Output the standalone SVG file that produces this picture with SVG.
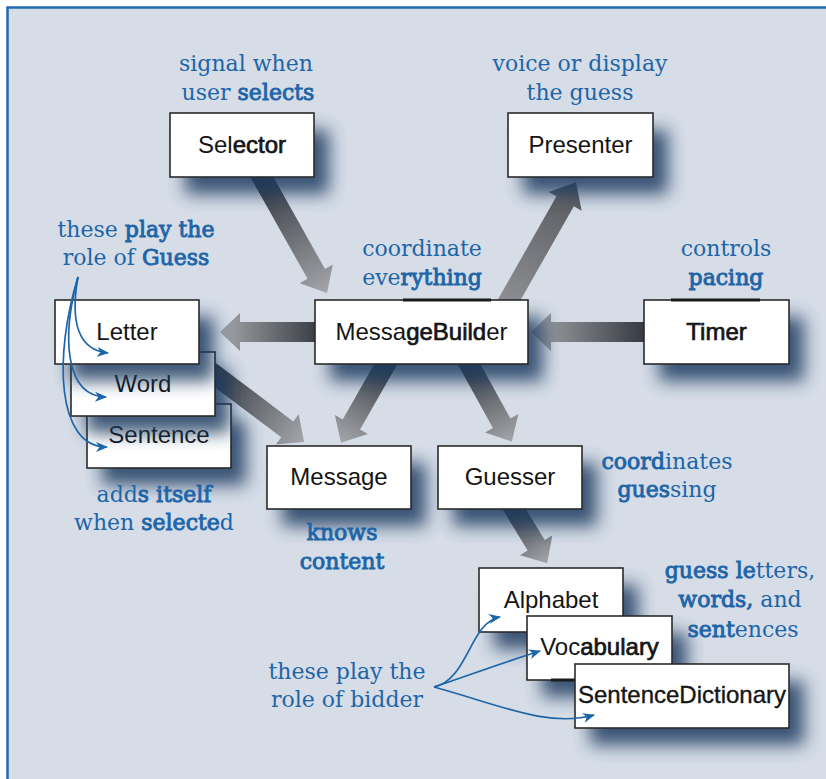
<svg xmlns="http://www.w3.org/2000/svg" width="826" height="779" viewBox="0 0 826 779">
<style>
.box{fill:#fff;stroke:#2a2a2a;stroke-width:1.6}
.shadow{fill:#1c3a60;opacity:0.85;filter:url(#blur)}
.lbl{font-family:"Liberation Sans",Arial,sans-serif;font-size:24px;fill:#151515;text-anchor:middle}
.sb{stroke:#151515;stroke-width:0.7}
.note{font-family:"DejaVu Serif",serif;font-size:22px;fill:#1d65a8;text-anchor:middle}
.b{stroke:#1d65a8;stroke-width:0.9}
.curve{fill:none;stroke:#1d65a8;stroke-width:1.7;marker-end:url(#ah)}
.edgebar{stroke:#1a1a1a;stroke-width:3}
</style>
<defs>
<filter id="blur" x="-50%" y="-50%" width="200%" height="200%"><feGaussianBlur stdDeviation="8.5"/></filter>
<linearGradient id="gTail" x1="0" y1="0" x2="1" y2="0"><stop offset="0" stop-color="#2c3038"/><stop offset="1" stop-color="#a4a6aa"/></linearGradient>
<linearGradient id="gRev" x1="0" y1="0" x2="1" y2="0"><stop offset="0" stop-color="#909296"/><stop offset="1" stop-color="#55575c"/></linearGradient>
<marker id="ah" viewBox="0 0 12 10" refX="11" refY="5" markerWidth="12" markerHeight="10" markerUnits="userSpaceOnUse" orient="auto"><path d="M0,0 L12,5 L0,10 L3.5,5 z" fill="#1d65a8"/></marker>
</defs>
<rect x="0" y="0" width="826" height="779" fill="#ffffff"/>
<rect x="7.5" y="7.5" width="840" height="800" fill="#d6dde7" stroke="#2068b0" stroke-width="2.5"/>

<g id="connectors">
<polygon transform="translate(258.5,171) rotate(60.7)" points="0,-10 118,-10 118,-19 140,0 118,19 118,10 0,10" fill="url(#gTail)"/>
<polygon transform="translate(503.4,310) rotate(-60.4)" points="0,-10 125,-10 125,-19 147,0 125,19 125,10 0,10" fill="url(#gRev)"/>
<polygon transform="translate(330,332) rotate(180)" points="0,-10 90,-10 90,-19 110,0 90,19 90,10 0,10" fill="url(#gTail)"/>
<polygon transform="translate(655,332) rotate(180)" points="0,-10 104,-10 104,-19 124,0 104,19 104,10 0,10" fill="url(#gTail)"/>
<polygon transform="translate(391,355) rotate(119.7)" points="0,-10 80,-10 80,-19 101,0 80,19 80,10 0,10" fill="url(#gTail)"/>
<polygon transform="translate(464,355) rotate(61.1)" points="0,-10 78,-10 78,-19 99,0 78,19 78,10 0,10" fill="url(#gTail)"/>
<polygon transform="translate(205,367.4) rotate(37)" points="0,-10 103,-10 103,-19 124,0 103,19 103,10 0,10" fill="url(#gTail)"/>
<polygon transform="translate(508.6,500) rotate(58.6)" points="0,-10 53,-10 53,-19 74,0 53,19 53,10 0,10" fill="url(#gTail)"/>
</g>

<g id="node-selector">
<rect class="shadow" x="185" y="130" width="144" height="64"/>
<rect class="box" x="170" y="113" width="144" height="64"/>
<text class="lbl" x="242" y="153">Sel<tspan class="sb">ector</tspan></text>
</g>
<g id="node-presenter">
<rect class="shadow" x="523" y="130" width="145" height="64"/>
<rect class="box" x="508" y="113" width="145" height="64"/>
<text class="lbl" x="580.5" y="153">Presenter</text>
</g>
<g id="node-messagebuilder">
<rect class="shadow" x="330" y="317" width="213" height="64"/>
<rect class="box" x="315" y="300" width="213" height="64"/>
<line class="edgebar" x1="403" y1="300" x2="491" y2="300"/>
<text class="lbl" x="421.5" y="340">Messa<tspan class="sb">geBuild</tspan>er</text>
</g>
<g id="node-timer">
<rect class="shadow" x="659" y="317" width="145" height="64"/>
<rect class="box" x="644" y="300" width="145" height="64"/>
<line class="edgebar" x1="671" y1="300" x2="760" y2="300"/>
<text class="lbl sb" x="716.5" y="340">Timer</text>
</g>
<g id="node-sentence">
<rect class="shadow" x="102" y="421" width="144" height="64"/>
<rect class="box" x="87" y="404" width="144" height="64"/>
<text class="lbl" x="159" y="443">Sentence</text>
</g>
<g id="node-word">
<rect class="shadow" x="86" y="369" width="144" height="64"/>
<rect class="box" x="71" y="352" width="144" height="64"/>
<text class="lbl" x="143" y="392">Word</text>
</g>
<g id="node-letter">
<rect class="shadow" x="70" y="317" width="144" height="64"/>
<rect class="box" x="55" y="300" width="144" height="64"/>
<text class="lbl" x="127" y="340">Letter</text>
</g>
<g id="node-message">
<rect class="shadow" x="282" y="463" width="144" height="63"/>
<rect class="box" x="267" y="446" width="144" height="63"/>
<text class="lbl" x="339" y="485">Message</text>
</g>
<g id="node-guesser">
<rect class="shadow" x="453" y="463" width="144" height="63"/>
<rect class="box" x="438" y="446" width="144" height="63"/>
<text class="lbl" x="510" y="485">Guesser</text>
</g>
<g id="node-alphabet">
<rect class="shadow" x="494" y="585" width="144" height="64"/>
<rect class="box" x="479" y="568" width="144" height="64"/>
<text class="lbl" x="551" y="608">Alphabet</text>
</g>
<g id="node-vocabulary">
<rect class="shadow" x="542" y="633" width="145" height="64"/>
<rect class="box" x="527" y="616" width="145" height="64"/>
<line class="edgebar" x1="551" y1="680" x2="672" y2="680"/>
<text class="lbl" x="599.5" y="655">Voc<tspan class="sb">abulary</tspan></text>
</g>
<g id="node-sentencedictionary">
<rect class="shadow" x="590" y="681" width="214" height="64"/>
<rect class="box" x="575" y="664" width="214" height="64"/>
<text class="lbl" x="682" y="703" style="stroke:#151515;stroke-width:0.35">SentenceDictionary</text>
</g>

<g id="notes">
<text class="note" x="246" y="71">signal when</text>
<text class="note" x="248" y="100">user <tspan class="b">selects</tspan></text>
<text class="note" x="580" y="71">voice or display</text>
<text class="note" x="580" y="100">the guess</text>
<text class="note" x="136" y="237">these <tspan class="b">play the</tspan></text>
<text class="note" x="136" y="265">role of <tspan class="b">Guess</tspan></text>
<text class="note" x="422" y="256">coordinate</text>
<text class="note" x="422" y="285">eve<tspan class="b">rything</tspan></text>
<text class="note" x="726" y="256">controls</text>
<text class="note b" x="726" y="285">pacing</text>
<text class="note" x="154" y="502">add<tspan class="b">s itself</tspan></text>
<text class="note" x="154" y="530">when <tspan class="b">selecte</tspan>d</text>
<text class="note b" x="342" y="540">knows</text>
<text class="note b" x="342" y="569">content</text>
<text class="note" x="667" y="469"><tspan class="b">coord</tspan>inates</text>
<text class="note" x="667" y="497"><tspan class="b">gues</tspan>sing</text>
<text class="note" x="740" y="578"><tspan class="b">guess le</tspan>tters,</text>
<text class="note" x="740" y="607"><tspan class="b">words,</tspan> and</text>
<text class="note" x="743" y="637"><tspan class="b">sent</tspan>ences</text>
<text class="note" x="347" y="679">these play the</text>
<text class="note" x="347" y="707">role of bidder</text>
</g>

<g id="annotation-connectors">
<path class="curve" d="M78,277 C70,322 78,350 108,353"/>
<path class="curve" d="M78,277 C62,335 64,396 106,397"/>
<path class="curve" d="M78,277 C54,355 56,447 107,447"/>
<path class="curve" d="M434,687 C468,680 470,622 500,617"/>
<path class="curve" d="M434,687 C478,672 505,662 540,651"/>
<path class="curve" d="M434,687 C500,705 548,728 594,715"/>
</g>
</svg>
